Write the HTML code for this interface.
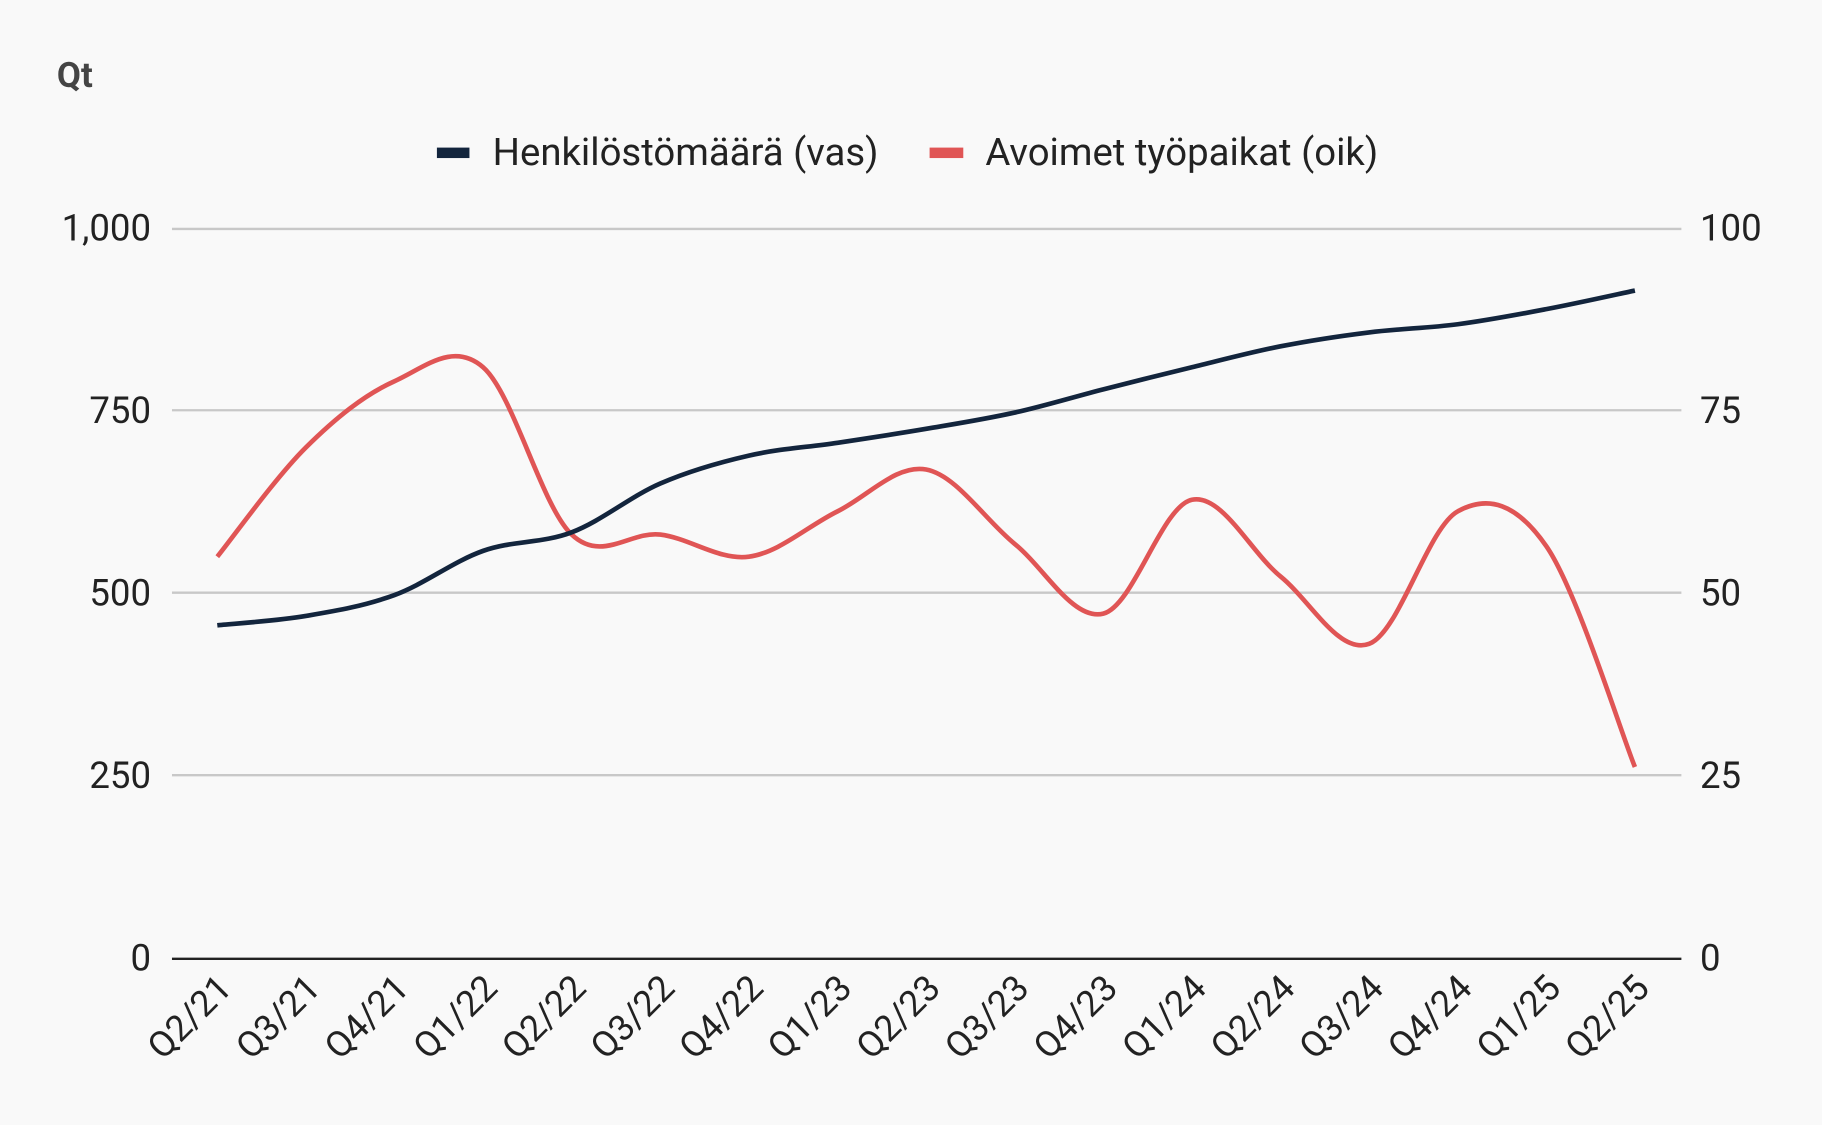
<!DOCTYPE html>
<html><head><meta charset="utf-8">
<style>
html,body{margin:0;padding:0;background:#f9f9f9;}
svg{display:block;}
text{font-family:"Roboto","Liberation Sans",sans-serif;}
</style></head>
<body>
<svg id="c" width="1822" height="1125" viewBox="0 0 1568 968" preserveAspectRatio="none" xmlns="http://www.w3.org/2000/svg">
<rect width="1568" height="968" fill="#f9f9f9"/>
<text x="49" y="75" font-size="30" font-weight="bold" fill="#444">Qt</text>
<rect x="376" y="127" width="28" height="9" fill="#13253d"/>
<text x="424" y="142" font-size="33" fill="#222">Henkilöstömäärä (vas)</text>
<rect x="800" y="127" width="29" height="9" fill="#e05555"/>
<text x="848" y="142" font-size="33" fill="#222">Avoimet työpaikat (oik)</text>
<g stroke="#c8c8c8" stroke-width="2">
<line x1="148" y1="197" x2="1447" y2="197"/>
<line x1="148" y1="353" x2="1447" y2="353"/>
<line x1="148" y1="510" x2="1447" y2="510"/>
<line x1="148" y1="667" x2="1447" y2="667"/>
</g>
<line x1="148" y1="825" x2="1447" y2="825" stroke="#222" stroke-width="2"/>
<g font-size="31.5" fill="#222" text-anchor="end">
<text x="130" y="207">1,000</text><text x="130" y="364">750</text><text x="130" y="521">500</text><text x="130" y="678">250</text><text x="130" y="835">0</text>
</g>
<g font-size="31.5" fill="#222">
<text x="1463" y="207">100</text><text x="1463" y="364">75</text><text x="1463" y="521">50</text><text x="1463" y="678">25</text><text x="1463" y="835">0</text>
</g>
<g id="xl" font-size="31" fill="#222" text-anchor="end"></g>
<path id="red" fill="none" stroke="#e05555" stroke-width="4"/>
<path id="navy" fill="none" stroke="#13253d" stroke-width="4"/>
</svg>
<script>
var labels=["Q2/21","Q3/21","Q4/21","Q1/22","Q2/22","Q3/22","Q4/22","Q1/23","Q2/23","Q3/23","Q4/23","Q1/24","Q2/24","Q3/24","Q4/24","Q1/25","Q2/25"];
var xs=labels.map(function(_,i){return 187+i*76.25;});
var navy=[538,530,512,474,458,416,392,381,369,355,335,316,298,286,279,266,250];
var red=[479,385,328,316,460,460,479,440,404,468,528,430,496,554,440,470,660];
function path(ys){var p=[];for(var i=0;i<xs.length;i++)p.push([xs[i],ys[i]]);
var d="M"+p[0][0]+","+p[0][1];var t=0.17;
for(var i=0;i<p.length-1;i++){var p0=p[i-1]||p[i],p1=p[i],p2=p[i+1],p3=p[i+2]||p2;
var c1x=p1[0]+(p2[0]-p0[0])*t,c1y=p1[1]+(p2[1]-p0[1])*t,c2x=p2[0]-(p3[0]-p1[0])*t,c2y=p2[1]-(p3[1]-p1[1])*t;
d+=" C"+c1x+","+c1y+" "+c2x+","+c2y+" "+p2[0]+","+p2[1];}return d;}
document.getElementById("navy").setAttribute("d",path(navy));
document.getElementById("red").setAttribute("d",path(red));
var g=document.getElementById("xl"),ns="http://www.w3.org/2000/svg";
labels.forEach(function(l,i){var t=document.createElementNS(ns,"text");var x=xs[i]+14,y=852;
t.setAttribute("x",x);t.setAttribute("y",y);t.setAttribute("transform","rotate(-45 "+x+" "+y+")");t.textContent=l;g.appendChild(t);});
</script>
</body></html>
